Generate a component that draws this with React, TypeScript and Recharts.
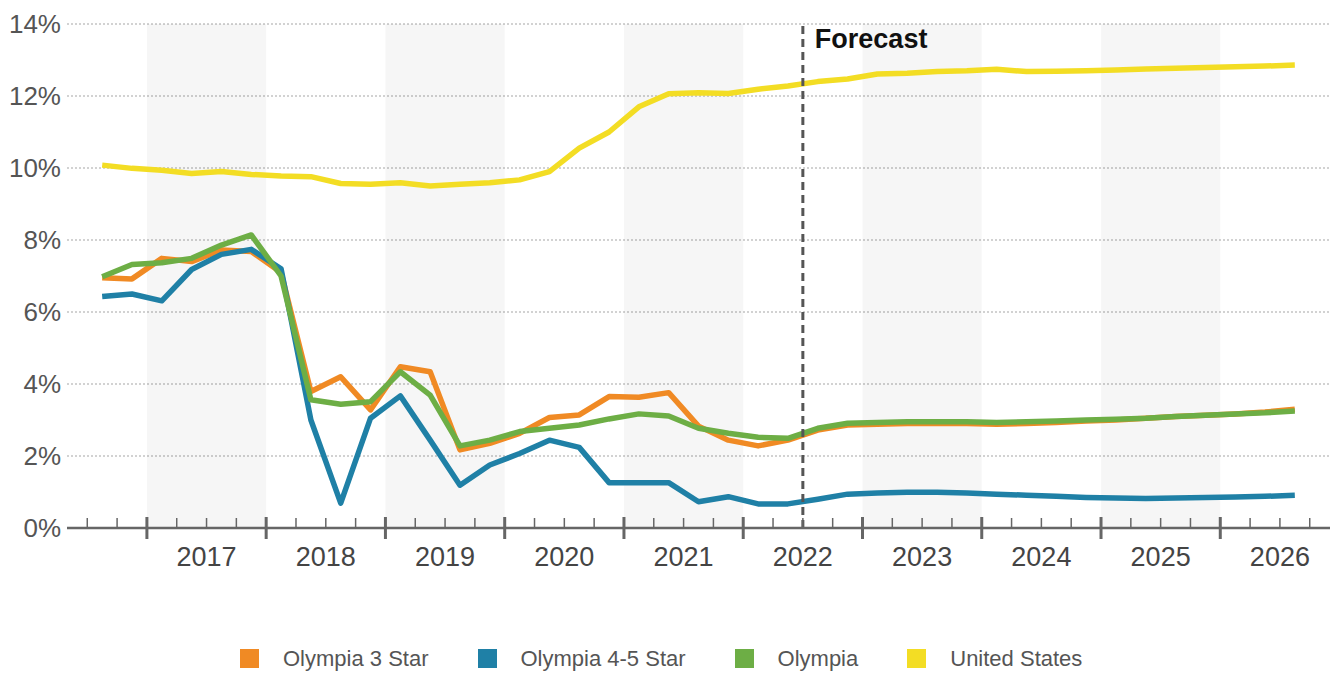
import React from 'react';
import {
  LineChart,
  Line,
  XAxis,
  YAxis,
  CartesianGrid,
  ReferenceArea,
  ReferenceLine,
  Legend,
} from 'recharts';

const FONT = "'Liberation Sans', Arial, Helvetica, sans-serif";

// Quarterly categories (points sit in the middle of each quarter)
const quarters = [
  '2016 Q3', '2016 Q4',
  '2017 Q1', '2017 Q2', '2017 Q3', '2017 Q4',
  '2018 Q1', '2018 Q2', '2018 Q3', '2018 Q4',
  '2019 Q1', '2019 Q2', '2019 Q3', '2019 Q4',
  '2020 Q1', '2020 Q2', '2020 Q3', '2020 Q4',
  '2021 Q1', '2021 Q2', '2021 Q3', '2021 Q4',
  '2022 Q1', '2022 Q2', '2022 Q3', '2022 Q4',
  '2023 Q1', '2023 Q2', '2023 Q3', '2023 Q4',
  '2024 Q1', '2024 Q2', '2024 Q3', '2024 Q4',
  '2025 Q1', '2025 Q2', '2025 Q3', '2025 Q4',
  '2026 Q1', '2026 Q2', '2026 Q3',
];

const olympia3Star = [
  6.95, 6.92, 7.49, 7.4, 7.72, 7.68, 7.1, 3.79, 4.2, 3.28,
  4.48, 4.34, 2.17, 2.35, 2.63, 3.07, 3.14, 3.65, 3.63, 3.76,
  2.83, 2.44, 2.28, 2.44, 2.72, 2.86, 2.88, 2.9, 2.9, 2.9,
  2.88, 2.9, 2.93, 2.97, 3.0, 3.05, 3.1, 3.13, 3.17, 3.22, 3.3,
];

const olympia45Star = [
  6.43, 6.5, 6.31, 7.18, 7.6, 7.74, 7.2, 3.0, 0.69, 3.05,
  3.67, 2.44, 1.19, 1.75, 2.07, 2.44, 2.24, 1.26, 1.26, 1.26,
  0.73, 0.87, 0.67, 0.67, 0.8, 0.94, 0.97, 0.99, 0.99, 0.97,
  0.94, 0.91, 0.88, 0.85, 0.83, 0.82, 0.83, 0.85, 0.86, 0.88, 0.91,
];

const olympia = [
  6.98, 7.32, 7.37, 7.49, 7.86, 8.14, 7.0, 3.56, 3.44, 3.51,
  4.34, 3.69, 2.28, 2.44, 2.68, 2.77, 2.86, 3.03, 3.17, 3.11,
  2.77, 2.63, 2.52, 2.49, 2.77, 2.91, 2.93, 2.95, 2.95, 2.95,
  2.93, 2.95, 2.97, 3.0, 3.02, 3.05, 3.1, 3.13, 3.17, 3.2, 3.25,
];

const unitedStates = [
  10.08, 9.99, 9.94, 9.85, 9.9, 9.82, 9.78, 9.76, 9.57, 9.55,
  9.59, 9.5, 9.55, 9.59, 9.67, 9.9, 10.55, 11.0, 11.7, 12.06,
  12.09, 12.07, 12.19, 12.28, 12.4, 12.47, 12.61, 12.63, 12.68, 12.7,
  12.74, 12.68, 12.69, 12.7, 12.72, 12.75, 12.77, 12.79, 12.81, 12.83, 12.86,
];

const yTicks = [0, 2, 4, 6, 8, 10, 12, 14];
const shadedYears = ['2017', '2019', '2021', '2023', '2025'];
const forecastStart = '2022 Q3';
const forecastLabel = 'Forecast';

const seriesNames = ['Olympia 3 Star', 'Olympia 4-5 Star', 'Olympia', 'United States'];
const seriesColors = ['#F08A24', '#1F80A6', '#6DAE45', '#F3DD24'];

const data = quarters.map((q, i) => ({
  t: i,
  quarter: q,
  s3: olympia3Star[i],
  s45: olympia45Star[i],
  oly: olympia[i],
  us: unitedStates[i],
}));

// quarter boundaries (tick marks sit between the quarter points)
const boundaryTicks = [...quarters.map((_, i) => i - 0.5), quarters.length - 0.5];

const idx = (q: string) => quarters.indexOf(q);

const QuarterTick = (props: any) => {
  const { x, y, payload } = props;
  const q = Math.round(payload.value + 0.5);
  const label = quarters[q];
  const isYearStart = !!label && label.endsWith('Q1');
  const year = label ? label.slice(0, 4) : '';
  const isMidYear = !!label && label.endsWith('Q3') && idx(`${year} Q1`) >= 0;
  return (
    <g>
      {isYearStart ? (
        <line x1={x} x2={x} y1={y - 11} y2={y + 11} stroke="#666" strokeWidth={3} />
      ) : (
        <line x1={x} x2={x} y1={y - 10} y2={y} stroke="#666" strokeWidth={1.5} />
      )}
      {isMidYear && (
        <text x={x} y={y + 38} textAnchor="middle" fontSize={27} fill="#444" fontFamily={FONT}>
          {year}
        </text>
      )}
    </g>
  );
};

const ForecastLabel = (props: any) => {
  const { viewBox } = props;
  if (!viewBox) return null;
  return (
    <text
      x={viewBox.x + 12}
      y={viewBox.y + 24}
      fontSize={27}
      fontWeight="bold"
      fill="#111"
      fontFamily={FONT}
    >
      {forecastLabel}
    </text>
  );
};

const LegendContent = (props: any) => {
  const payload = [...(props.payload || [])].sort(
    (a: any, b: any) => seriesNames.indexOf(a.value) - seriesNames.indexOf(b.value)
  );
  return (
    <div style={{ height: 60, boxSizing: 'border-box', paddingTop: 36, paddingLeft: 240 }}>
      <div style={{ display: 'flex', alignItems: 'center', height: 19 }}>
        {payload.map((p: any, i: number) => (
          <div
            key={i}
            style={{ display: 'flex', alignItems: 'center', marginRight: 49 }}
          >
            <span
              style={{ width: 19, height: 19, background: p.color, display: 'inline-block', marginRight: 24 }}
            />
            <span style={{ fontSize: 22, color: '#555', fontFamily: FONT, lineHeight: '19px', whiteSpace: 'nowrap' }}>
              {p.value}
            </span>
          </div>
        ))}
      </div>
    </div>
  );
};

export default function App() {
  return (
    <div style={{ position: 'absolute', left: 0, top: 0, width: 1336, height: 673, background: '#fff', fontFamily: FONT }}>
      <LineChart
        width={1336}
        height={673}
        data={data}
        margin={{ top: 24, right: 6, bottom: 0, left: 0 }}
      >
        {shadedYears.map((y) => (
          <ReferenceArea
            key={y}
            x1={idx(`${y} Q1`) - 0.5}
            x2={idx(`${y} Q4`) + 0.5}
            y1={0}
            y2={14}
            fill="#000"
            fillOpacity={0.035}
            stroke="none"
            ifOverflow="visible"
          />
        ))}
        <CartesianGrid vertical={false} stroke="#c4c4c4" strokeWidth={1.5} strokeDasharray="2 2" />
        <XAxis
          dataKey="t"
          type="number"
          domain={[-1.18, quarters.length - 1 + 1.18]}
          allowDataOverflow
          ticks={boundaryTicks}
          interval={0}
          tick={<QuarterTick />}
          tickLine={false}
          tickSize={0}
          tickMargin={0}
          axisLine={{ stroke: '#666', strokeWidth: 2.5 }}
          height={85}
        />
        <YAxis
          type="number"
          domain={[0, 14]}
          ticks={yTicks}
          interval={0}
          axisLine={false}
          tickLine={false}
          tickSize={0}
          tickMargin={6}
          width={67}
          tickFormatter={(v: number) => `${v}%`}
          tick={{ fontSize: 26, fill: '#555', fontFamily: FONT }}
        />
        <Legend verticalAlign="bottom" content={<LegendContent />} />
        <Line name={seriesNames[0]} dataKey="s3" stroke={seriesColors[0]} strokeWidth={5.5} dot={false} type="linear" isAnimationActive={false} strokeLinejoin="round" />
        <Line name={seriesNames[1]} dataKey="s45" stroke={seriesColors[1]} strokeWidth={5.5} dot={false} type="linear" isAnimationActive={false} strokeLinejoin="round" />
        <Line name={seriesNames[2]} dataKey="oly" stroke={seriesColors[2]} strokeWidth={5.5} dot={false} type="linear" isAnimationActive={false} strokeLinejoin="round" />
        <Line name={seriesNames[3]} dataKey="us" stroke={seriesColors[3]} strokeWidth={5.5} dot={false} type="linear" isAnimationActive={false} strokeLinejoin="round" />
        <ReferenceLine
          x={idx(forecastStart) - 0.5}
          stroke="#555"
          strokeWidth={3}
          strokeDasharray="8 5"
          label={<ForecastLabel />}
        />
      </LineChart>
    </div>
  );
}
